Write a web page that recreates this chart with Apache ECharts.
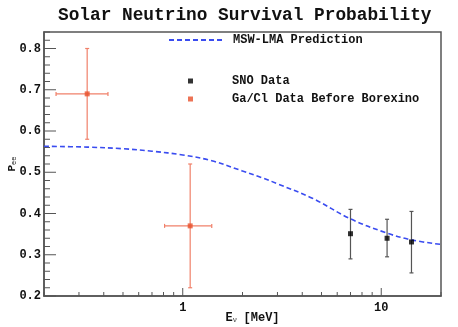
<!DOCTYPE html>
<html>
<head>
<meta charset="utf-8">
<script src="https://cdn.jsdelivr.net/npm/echarts@6/dist/echarts.min.js"></script>
<style>
  html, body { margin: 0; padding: 0; background: #fff; }
  #chart { width: 458px; height: 327px; }
</style>
</head>
<body>
<div id="chart"></div>
<script>
// MSW-LMA 预测曲线
const mswE = [0.2, 0.33, 0.5, 0.7, 1.0, 1.4, 2.0, 2.5, 3.0, 4.5, 7.0, 10.6, 14.2, 20];
const mswP = [0.563, 0.561, 0.557, 0.551, 0.542, 0.528, 0.503, 0.487, 0.472, 0.437, 0.387, 0.353, 0.336, 0.325];

// Ga/Cl 数据
const gaclE = [0.33, 1.09];
const gaclP = [0.69, 0.37];
const gaclELow = [0.23, 0.81];
const gaclEHigh = [0.42, 1.40];
const gaclPLow = [0.58, 0.22];
const gaclPHigh = [0.80, 0.52];

// SNO 数据
const snoE = [7.0, 10.7, 14.2];
const snoP = [0.351, 0.34, 0.331];
const snoPLow = [0.29, 0.295, 0.256];
const snoPHigh = [0.41, 0.386, 0.405];

// 刻度
const xMajorTicks = [1, 10];
const xMinorTicks = [0.2, 0.3, 0.4, 0.5, 0.6, 0.7, 0.8, 0.9, 2, 3, 4, 5, 6, 7, 8, 9, 20];
const yMajorTicks = [0.2, 0.3, 0.4, 0.5, 0.6, 0.7, 0.8];
const yMinorTicks = [0.22, 0.24, 0.26, 0.28, 0.32, 0.34, 0.36, 0.38, 0.42, 0.44, 0.46, 0.48,
  0.52, 0.54, 0.56, 0.58, 0.62, 0.64, 0.66, 0.68, 0.72, 0.74, 0.76, 0.78, 0.82, 0.84];

const xMin = 0.2, xMax = 20, yMin = 0.2, yMax = 0.84;
const mono = '"Liberation Mono", "DejaVu Sans Mono", monospace';

const chart = echarts.init(document.getElementById('chart'));

// 误差棒: [x, y, xlo, xhi, ylo, yhi]
const gaclErr = gaclE.map((e, i) => [e, gaclP[i], gaclELow[i], gaclEHigh[i], gaclPLow[i], gaclPHigh[i]]);
const snoErr = snoE.map((e, i) => [e, snoP[i], e, e, snoPLow[i], snoPHigh[i]]);

function errorBars (color) {
  return function (params, api) {
    const x = api.value(0), y = api.value(1);
    const c = api.coord([x, y]);
    const lo = api.coord([x, api.value(4)]);
    const hi = api.coord([x, api.value(5)]);
    const l = api.coord([api.value(2), y]);
    const r = api.coord([api.value(3), y]);
    const st = { stroke: color, lineWidth: 1.2 };
    const cap = 2;
    const children = [
      { type: 'line', shape: { x1: c[0], y1: lo[1], x2: c[0], y2: hi[1] }, style: st },
      { type: 'line', shape: { x1: c[0] - cap, y1: lo[1], x2: c[0] + cap, y2: lo[1] }, style: st },
      { type: 'line', shape: { x1: c[0] - cap, y1: hi[1], x2: c[0] + cap, y2: hi[1] }, style: st }
    ];
    if (r[0] - l[0] > 1) {
      children.push(
        { type: 'line', shape: { x1: l[0], y1: c[1], x2: r[0], y2: c[1] }, style: st },
        { type: 'line', shape: { x1: l[0], y1: c[1] - cap, x2: l[0], y2: c[1] + cap }, style: st },
        { type: 'line', shape: { x1: r[0], y1: c[1] - cap, x2: r[0], y2: c[1] + cap }, style: st }
      );
    }
    return { type: 'group', children: children };
  };
}

// 坐标轴刻度(向内)
function renderTicks (params, api) {
  const st = { stroke: '#555', lineWidth: 1 };
  const children = [];
  const add = (vals, len, isX) => {
    vals.forEach(v => {
      if (isX) {
        const p = api.coord([v, yMin]);
        children.push({ type: 'line', shape: { x1: p[0], y1: p[1], x2: p[0], y2: p[1] - len }, style: st });
      } else {
        const p = api.coord([xMin, v]);
        children.push({ type: 'line', shape: { x1: p[0], y1: p[1], x2: p[0] + len, y2: p[1] }, style: st });
      }
    });
  };
  add(xMajorTicks, 8, true);
  add(xMinorTicks, 4, true);
  add(yMajorTicks, 12, false);
  add(yMinorTicks, 6, false);
  return { type: 'group', children: children };
}

const option = {
  animation: false,
  backgroundColor: '#fff',
  title: {
    text: 'Solar Neutrino Survival Probability',
    left: 53,
    top: 2,
    textStyle: { fontFamily: mono, fontWeight: 'bold', fontSize: 17.8, color: '#111' }
  },
  legend: [
    {
      data: [{ name: 'MSW-LMA Prediction', itemStyle: { opacity: 0 } }],
      left: 163,
      top: 29,
      itemWidth: 54,
      itemHeight: 8,
      textStyle: { fontFamily: mono, fontWeight: 'bold', fontSize: 12, color: '#111', padding: [0, 0, 0, 5] }
    },
    {
      data: ['SNO Data', 'Ga/Cl Data Before Borexino'],
      orient: 'vertical',
      left: 183,
      top: 70,
      itemGap: 6,
      itemWidth: 5,
      itemHeight: 5,
      icon: 'rect',
      textStyle: { fontFamily: mono, fontWeight: 'bold', fontSize: 12, color: '#111', padding: [0, 0, 0, 34] }
    }
  ],
  grid: {
    left: 44,
    right: 17,
    top: 32,
    bottom: 31,
    outerBoundsMode: 'none',
    show: true,
    borderColor: '#555',
    borderWidth: 1.5
  },
  xAxis: {
    type: 'log',
    logBase: 10,
    min: xMin,
    max: xMax,
    axisLine: { lineStyle: { color: '#555', width: 1.5 } },
    axisTick: { show: false },
    splitLine: { show: false },
    axisLabel: {
      showMinLabel: false,
      showMaxLabel: false,
      margin: 6,
      fontFamily: mono,
      fontWeight: 'bold',
      fontSize: 12,
      color: '#111'
    },
    name: '{e|E}{nu|ν}  {u|[MeV]}',
    nameLocation: 'middle',
    nameMoveOverlap: false,
    nameGap: 15,
    nameTextStyle: {
      padding: [0, 0, 0, 20],
      rich: {
        e: { fontFamily: mono, fontWeight: 'bold', fontSize: 12, color: '#111' },
        nu: { fontFamily: mono, fontSize: 7, color: '#111', verticalAlign: 'bottom', padding: [6, 0, 0, 0] },
        u: { fontFamily: mono, fontWeight: 'bold', fontSize: 12, color: '#111' }
      }
    }
  },
  yAxis: {
    type: 'value',
    min: yMin,
    max: yMax,
    interval: 0.1,
    axisLine: { show: true, lineStyle: { color: '#555', width: 1.5 } },
    axisTick: { show: false },
    splitLine: { show: false },
    axisLabel: {
      showMinLabel: true,
      showMaxLabel: false,
      margin: 3,
      fontFamily: mono,
      fontWeight: 'bold',
      fontSize: 12,
      color: '#111',
      formatter: v => v.toFixed(1)
    },
    name: '{p|P}{s|ee}',
    nameLocation: 'middle',
    nameMoveOverlap: false,
    nameRotate: 90,
    nameGap: 26,
    nameTextStyle: {
      rich: {
        p: { fontFamily: mono, fontWeight: 'bold', fontSize: 11, color: '#111' },
        s: { fontFamily: mono, fontSize: 7, color: '#111', padding: [5, 0, 0, 0] }
      }
    }
  },
  series: [
    {
      name: 'ticks',
      type: 'custom',
      silent: true,
      z: 1,
      renderItem: renderTicks,
      data: [[xMin, yMin]]
    },
    {
      name: 'MSW-LMA Prediction',
      type: 'line',
      smooth: 0.35,
      symbol: 'none',
      z: 3,
      lineStyle: { color: '#3a4cf0', width: 1.6, type: [5, 3] },
      itemStyle: { color: '#3a4cf0' },
      data: mswE.map((e, i) => [e, mswP[i]])
    },
    {
      name: 'gaclErr',
      type: 'custom',
      z: 2,
      renderItem: errorBars('#f0806a'),
      data: gaclErr
    },
    {
      name: 'snoErr',
      type: 'custom',
      z: 2,
      renderItem: errorBars('#555'),
      data: snoErr
    },
    {
      name: 'SNO Data',
      type: 'scatter',
      symbol: 'rect',
      symbolSize: 5,
      z: 4,
      itemStyle: { color: '#000' },
      data: snoE.map((e, i) => [e, snoP[i]])
    },
    {
      name: 'Ga/Cl Data Before Borexino',
      type: 'scatter',
      symbol: 'rect',
      symbolSize: 5,
      z: 4,
      itemStyle: { color: '#e8502a' },
      data: gaclE.map((e, i) => [e, gaclP[i]])
    }
  ]
};

chart.setOption(option);
</script>
</body>
</html>
